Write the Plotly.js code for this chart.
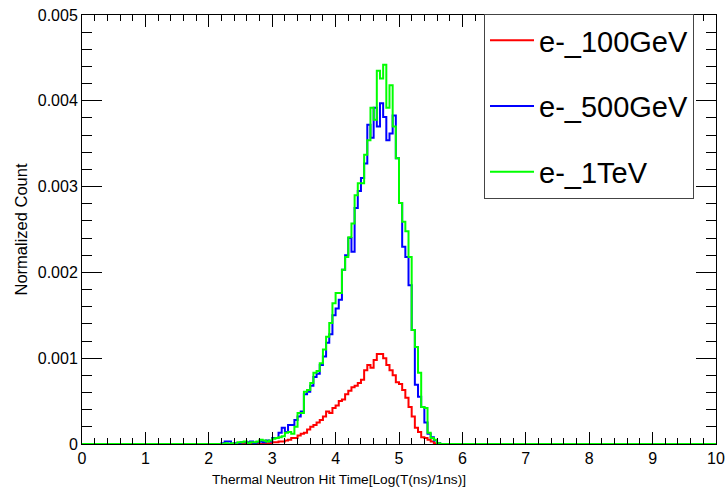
<!DOCTYPE html>
<html>
<head>
<meta charset="utf-8">
<script src="https://cdn.plot.ly/plotly-3.0.1.min.js"></script>
<style>html,body{margin:0;padding:0;background:#fff;}#chart{width:728px;height:493px;}</style>
</head>
<body>
<div id="chart"></div>
<script>
// Histogram binning
const binWidth = 0.05;
const xMin = 0, xMax = 10;

// e-_100GeV (red): bins starting at x = 2.90
const redStart = 2.90;
const red100GeV = [
  0.00001, 0.00001, 0.00002, 0.00002, 0.00003, 0.00003, 0.00004, 0.00005, 0.00007, 0.00007,
  0.00010, 0.00012, 0.00013, 0.00017, 0.00020, 0.00022, 0.00025, 0.00028, 0.00032, 0.00038,
  0.00036, 0.00042, 0.00045, 0.00050, 0.00052, 0.00058, 0.00062, 0.00066, 0.00068, 0.00071,
  0.00075, 0.00086, 0.00092, 0.00089, 0.00098, 0.00105, 0.00105, 0.00100, 0.00092, 0.00086,
  0.00080, 0.00072, 0.00070, 0.00063, 0.00054, 0.00043, 0.00032, 0.00019, 0.00014, 0.00008,
  0.00007, 0.00005, 0.00003, 0.00001
];

// e-_500GeV (blue): bins starting at x = 2.20
const blueStart = 2.20;
const blue500GeV = [
  0.00001, 0.00003, 0.00003, 0.00000, 0.00001, 0.00001, 0.00002, 0.00002, 0.00002, 0.00003,
  0.00001, 0.00002, 0.00003, 0.00002, 0.00004, 0.00003, 0.00007, 0.00007, 0.00013, 0.00019,
  0.00014, 0.00022, 0.00022, 0.00028, 0.00032, 0.00038, 0.00058, 0.00061, 0.00068, 0.00078,
  0.00082, 0.00092, 0.00102, 0.00118, 0.00128, 0.00150, 0.00158, 0.00168, 0.00203, 0.00220,
  0.00240, 0.00224, 0.00275, 0.00295, 0.00310, 0.00327, 0.00372, 0.00357, 0.00392, 0.00370,
  0.00397, 0.00381, 0.00354, 0.00362, 0.00383, 0.00333, 0.00281, 0.00230, 0.00218, 0.00185,
  0.00133, 0.00069, 0.00055, 0.00043, 0.00025, 0.00012, 0.00008, 0.00004, 0.00001
];

// e-_1TeV (green): bins starting at x = 2.20
const greenStart = 2.20;
const green1TeV = [
  0.00000, 0.00001, 0.00000, 0.00001, 0.00000, 0.00002, 0.00002, 0.00003, 0.00001, 0.00002,
  0.00002, 0.00003, 0.00005, 0.00004, 0.00003, 0.00004, 0.00006, 0.00007, 0.00008, 0.00009,
  0.00013, 0.00014, 0.00012, 0.00020, 0.00036, 0.00036, 0.00061, 0.00063, 0.00071, 0.00083,
  0.00085, 0.00094, 0.00110, 0.00125, 0.00141, 0.00164, 0.00176, 0.00176, 0.00203, 0.00218,
  0.00241, 0.00257, 0.00290, 0.00304, 0.00304, 0.00337, 0.00354, 0.00392, 0.00378, 0.00435,
  0.00426, 0.00442, 0.00392, 0.00418, 0.00370, 0.00333, 0.00281, 0.00259, 0.00248, 0.00218,
  0.00133, 0.00113, 0.00083, 0.00043, 0.00042, 0.00013, 0.00007, 0.00005, 0.00001
];

const seriesNames = ["e-_100GeV", "e-_500GeV", "e-_1TeV"];
const seriesColors = ["#ff0000", "#0000ff", "#00ff00"];

// xTicks / yTicks
const xTickVals = [0,1,2,3,4,5,6,7,8,9,10];
const yTickVals = [0, 0.001, 0.002, 0.003, 0.004, 0.005];
const yTickText = ["0", "0.001", "0.002", "0.003", "0.004", "0.005"];

function stepXY(start, vals) {
  const xs = [xMin], ys = [0];
  for (let i = 0; i < vals.length; i++) {
    xs.push(+(start + i * binWidth).toFixed(4));
    ys.push(vals[i]);
  }
  xs.push(+(start + vals.length * binWidth).toFixed(4)); ys.push(0);
  xs.push(xMax); ys.push(0);
  return {xs, ys};
}

const datasets = [[redStart, red100GeV], [blueStart, blue500GeV], [greenStart, green1TeV]];
const traces = datasets.map((d, i) => {
  const s = stepXY(d[0], d[1]);
  return {
    x: s.xs, y: s.ys, type: 'scatter', mode: 'lines',
    line: {shape: 'hv', color: seriesColors[i], width: 2},
    name: seriesNames[i], legendgroup: 'g' + i, cliponaxis: true
  };
});

const FONT = "Liberation Sans, Arial, Helvetica, sans-serif";
const L = 82, R = 12, T = 15, B = 49;
const W = 728, H = 493;
const pw = W - L - R, ph = H - T - B;

const layout = {
  width: W, height: H,
  margin: {l: L, r: R, t: T, b: B, pad: 0},
  paper_bgcolor: '#fff', plot_bgcolor: '#fff',
  font: {family: FONT, color: '#000'},
  showlegend: true,
  xaxis: {
    range: [xMin, xMax], tickvals: xTickVals, ticks: 'inside', ticklen: 12, tickwidth: 1,
    tickcolor: '#000', showgrid: false, zeroline: false, showline: true, linecolor: '#000',
    linewidth: 1, mirror: 'ticks', tickfont: {size: 16, family: FONT, color: '#000'},
    minor: {dtick: 0.2, ticks: 'inside', ticklen: 6, tickcolor: '#000', showgrid: false},
    fixedrange: true
  },
  yaxis: {
    range: [0, 0.005], tickvals: yTickVals, ticktext: yTickText, ticks: 'inside', ticklen: 20,
    tickwidth: 1, tickcolor: '#000', showgrid: false, zeroline: false, showline: true,
    linecolor: '#000', linewidth: 1, mirror: 'ticks', tickfont: {size: 16, family: FONT, color: '#000'},
    minor: {dtick: 0.0002, ticks: 'inside', ticklen: 10, tickcolor: '#000', showgrid: false},
    fixedrange: true
  },
  legend: {
    x: (484 - L) / pw, y: (H - B - 14) / ph, xanchor: 'left', yanchor: 'top',
    bgcolor: '#fff', bordercolor: '#444', borderwidth: 1,
    font: {size: 29, family: FONT, color: '#000'},
    tracegroupgap: 25, itemwidth: 44, traceorder: 'grouped',
    entrywidth: 180, entrywidthmode: 'pixels'
  },
  annotations: [
    {text: 'Thermal Neutron Hit Time[Log(T(ns)/1ns)]', xref: 'paper', yref: 'paper',
     x: (339 - L) / pw, y: (H - B - 479) / ph, xanchor: 'center', yanchor: 'middle',
     showarrow: false, font: {size: 13.7, family: FONT, color: '#000'}},
    {text: 'Normalized Count', xref: 'paper', yref: 'paper', textangle: -90,
     x: (20 - L) / pw, y: 0.5, xanchor: 'center', yanchor: 'middle',
     showarrow: false, font: {size: 16.5, family: FONT, color: '#000'}}
  ]
};

Plotly.newPlot('chart', traces, layout, {displayModeBar: false, staticPlot: true});
</script>
</body>
</html>
